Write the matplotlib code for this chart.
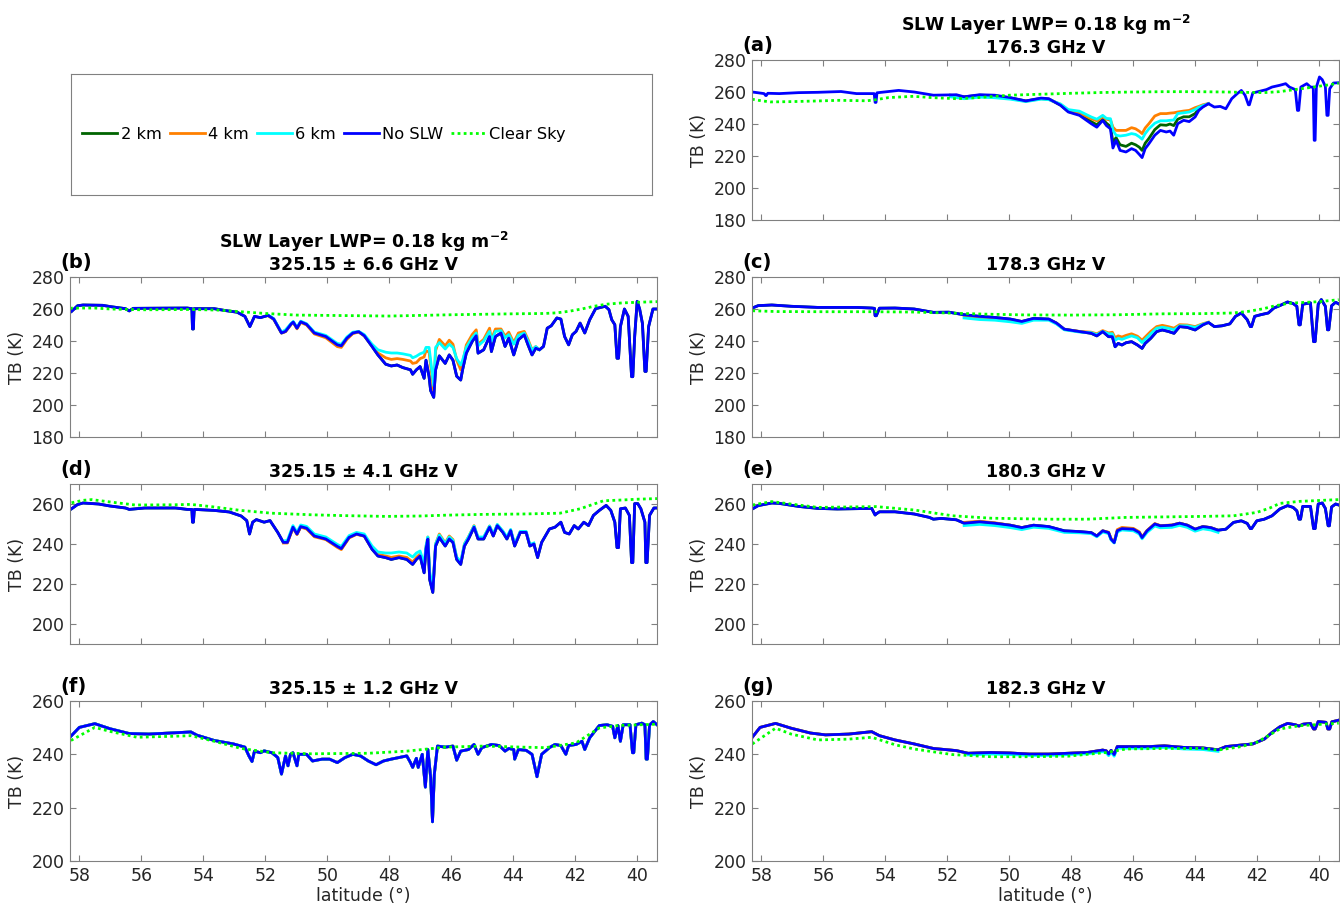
import numpy as np
import matplotlib
matplotlib.use('Agg')
import matplotlib.pyplot as plt
from matplotlib.lines import Line2D

# ---- brightness temperatures along the flight track: (latitude, TB [K]) ----

# (a) 176.3 GHz V
a_noslw = [(58.29, 260.0), (57.91, 259.0), (57.86, 257.8), (57.84, 257.8), (57.79, 259.2), (57.42, 259.0),
           (56.80, 259.6), (56.18, 259.8), (55.43, 260.3), (54.93, 259.0), (54.36, 259.0), (54.33, 253.5),
           (54.30, 253.5), (54.27, 259.5), (53.57, 261.0), (53.07, 260.0), (52.45, 258.0), (51.90, 258.2),
           (51.71, 258.3), (51.46, 257.0), (50.96, 258.3), (50.47, 258.0), (49.97, 256.5), (49.47, 254.4),
           (48.98, 256.2), (48.73, 255.8), (48.35, 251.7), (48.10, 247.5), (47.74, 245.4), (47.36, 240.2),
           (47.18, 238.0), (46.99, 242.3), (46.87, 239.0), (46.74, 237.0), (46.66, 225.0), (46.56, 229.8),
           (46.43, 223.5), (46.24, 222.5), (46.06, 224.6), (45.93, 223.5), (45.81, 221.0), (45.72, 219.0),
           (45.62, 224.6), (45.50, 227.7), (45.31, 233.0), (45.13, 236.0), (44.94, 235.0), (44.82, 235.6),
           (44.70, 233.0), (44.57, 240.2), (44.38, 242.3), (44.20, 241.5), (44.01, 244.4), (43.89, 248.5),
           (43.76, 250.6), (43.58, 252.7), (43.39, 250.6), (43.20, 251.0), (43.02, 249.5), (42.83, 255.8),
           (42.65, 259.0), (42.52, 261.0), (42.40, 258.0), (42.29, 252.0), (42.26, 252.0), (42.15, 259.4),
           (41.71, 261.5), (41.53, 263.1), (41.28, 264.2), (41.09, 265.2), (40.97, 263.1), (40.78, 261.5),
           (40.71, 248.5), (40.67, 248.5), (40.60, 263.1), (40.41, 265.2), (40.29, 263.1), (40.20, 263.0),
           (40.17, 229.8), (40.14, 229.8), (40.10, 263.0), (40.00, 269.4), (39.91, 267.7), (39.81, 263.5),
           (39.76, 245.4), (39.72, 245.4), (39.67, 262.0), (39.55, 265.6), (39.38, 265.8)]
a_clear = [(58.30, 255.5), (58.00, 254.5), (57.70, 253.8), (57.00, 254.0), (56.00, 254.5), (55.50, 254.8),
           (54.60, 254.5), (54.30, 255.2), (53.90, 256.5), (53.10, 257.3), (52.50, 256.5), (51.70, 255.8),
           (51.00, 256.5), (50.00, 258.0), (49.00, 258.6), (48.00, 259.2), (47.00, 259.7), (46.00, 260.0),
           (45.00, 260.2), (44.00, 260.2), (43.00, 260.0), (42.50, 259.8), (41.80, 259.6), (41.30, 260.2),
           (40.80, 261.5), (40.30, 262.8), (39.80, 264.2), (39.38, 265.5)]
a_slw_lat = [51.90, 51.46, 50.96, 50.47, 49.97, 49.47, 48.98, 48.73, 48.35, 48.10,
             47.74, 47.36, 47.18, 46.99, 46.87, 46.74, 46.66, 46.56, 46.43, 46.24,
             46.06, 45.93, 45.81, 45.72, 45.62, 45.50, 45.31, 45.13, 44.94, 44.82,
             44.70, 44.57, 44.38, 44.20, 44.01, 43.89, 43.76, 43.58]
a_2km = [258.0, 257.0, 258.0, 257.7, 256.3, 254.4, 256.0, 255.6, 251.8, 247.8,
         246.0, 241.5, 239.5, 243.0, 240.5, 238.5, 228.5, 231.5, 227.0, 226.0,
         228.0, 227.0, 225.5, 223.5, 228.0, 231.0, 236.5, 239.5, 239.2, 240.0,
         239.0, 243.0, 244.5, 244.5, 246.5, 249.5, 251.0, 252.7]
a_4km = [257.8, 256.7, 257.6, 257.2, 256.0, 254.2, 255.8, 255.4, 252.3, 248.5,
         247.0, 243.3, 242.0, 244.5, 243.0, 242.5, 238.0, 236.0, 236.0, 236.0,
         237.7, 237.0, 235.5, 234.0, 237.5, 240.2, 245.0, 246.5, 246.5, 246.8,
         247.0, 247.5, 248.1, 248.5, 250.2, 251.0, 252.0, 252.8]
a_6km = [257.0, 255.8, 256.8, 256.4, 255.5, 254.0, 255.5, 255.2, 252.5, 249.0,
         248.0, 244.4, 243.0, 245.4, 243.5, 243.3, 236.0, 233.0, 232.5, 233.0,
         234.0, 233.5, 232.0, 230.5, 234.0, 237.0, 240.5, 242.0, 242.0, 242.3,
         242.5, 246.5, 247.0, 247.5, 249.0, 250.5, 251.5, 252.7]

# (b) 325.15 +- 6.6 GHz V
b_noslw = [(58.25, 258.5), (58.06, 262.0), (57.88, 262.5), (57.25, 262.3), (57.00, 261.5), (56.51, 260.2),
           (56.39, 258.8), (56.26, 260.4), (55.50, 260.5), (54.52, 260.6), (54.37, 260.2), (54.35, 247.5),
           (54.32, 247.5), (54.30, 260.2), (53.65, 260.2), (53.28, 259.0), (52.91, 258.0), (52.66, 255.4),
           (52.50, 249.0), (52.35, 255.4), (52.16, 254.6), (51.91, 256.0), (51.73, 253.7), (51.48, 245.0),
           (51.35, 246.0), (51.17, 250.6), (51.10, 251.8), (50.98, 248.0), (50.86, 252.0), (50.67, 250.4),
           (50.42, 245.0), (50.05, 242.8), (49.68, 237.6), (49.55, 237.0), (49.37, 241.8), (49.18, 245.0),
           (48.99, 245.8), (48.81, 243.3), (48.56, 236.6), (48.37, 231.3), (48.12, 225.5), (47.94, 224.4),
           (47.75, 225.0), (47.57, 223.4), (47.32, 222.0), (47.25, 219.2), (47.13, 222.0), (47.01, 224.0),
           (46.88, 216.7), (46.82, 228.0), (46.72, 217.7), (46.67, 209.0), (46.57, 204.8), (46.51, 222.0),
           (46.39, 230.7), (46.20, 226.0), (46.07, 231.3), (45.95, 228.0), (45.83, 218.0), (45.70, 215.6),
           (45.64, 222.0), (45.52, 232.4), (45.33, 239.7), (45.20, 243.3), (45.14, 232.4), (44.96, 234.5),
           (44.77, 242.8), (44.71, 233.4), (44.58, 242.8), (44.40, 245.0), (44.27, 236.6), (44.15, 241.8),
           (43.99, 231.3), (43.84, 240.8), (43.65, 243.9), (43.53, 237.6), (43.40, 231.3), (43.28, 235.5),
           (43.16, 234.5), (43.03, 236.6), (42.91, 248.0), (42.78, 249.5), (42.60, 254.4), (42.47, 253.7),
           (42.35, 242.8), (42.22, 237.6), (42.10, 243.9), (41.98, 246.0), (41.85, 251.2), (41.70, 245.0),
           (41.54, 253.3), (41.35, 260.2), (41.04, 261.7), (40.92, 259.6), (40.83, 253.3), (40.73, 250.2),
           (40.66, 229.2), (40.61, 229.2), (40.55, 249.0), (40.42, 260.0), (40.30, 255.4), (40.19, 217.7),
           (40.15, 217.7), (40.09, 242.8), (40.01, 264.8), (39.93, 260.0), (39.84, 251.0), (39.76, 221.0),
           (39.72, 221.0), (39.64, 249.0), (39.50, 260.0), (39.37, 260.0)]
b_clear = [(58.30, 260.5), (58.00, 260.6), (57.50, 260.6), (57.00, 260.0), (56.00, 259.5), (55.00, 259.6),
           (54.40, 259.7), (53.50, 259.3), (52.80, 258.3), (52.00, 257.2), (51.00, 256.2), (50.00, 256.0),
           (49.00, 255.8), (48.00, 255.6), (47.00, 256.0), (46.00, 256.4), (45.00, 256.7), (44.00, 257.0),
           (43.00, 257.2), (42.60, 257.6), (42.20, 258.6), (41.80, 260.0), (41.40, 261.7), (41.00, 263.0),
           (40.50, 263.8), (40.00, 264.2), (39.37, 264.6)]
b_slw_lat = [51.91, 51.73, 51.48, 51.35, 51.17, 51.10, 50.98, 50.86, 50.67, 50.42,
             50.05, 49.68, 49.55, 49.37, 49.18, 48.99, 48.81, 48.56, 48.37, 48.12,
             47.94, 47.75, 47.57, 47.32, 47.25, 47.13, 47.01, 46.88, 46.82, 46.72,
             46.67, 46.57, 46.51, 46.39, 46.20, 46.07, 45.95, 45.83, 45.70, 45.64,
             45.52, 45.33, 45.20, 45.14, 44.96, 44.77, 44.71, 44.58, 44.40, 44.27,
             44.15, 43.99, 43.84, 43.65, 43.53, 43.40, 43.28, 43.16]
b_4km = [255.8, 253.5, 245.0, 245.8, 250.3, 251.5, 247.6, 251.6, 250.0, 244.4,
         242.0, 236.5, 236.0, 241.0, 244.6, 245.6, 243.2, 237.0, 232.5, 229.5,
         228.5, 229.0, 228.5, 227.5, 226.0, 226.5, 229.0, 230.0, 234.0, 233.0,
         225.0, 208.0, 234.0, 241.0, 237.0, 240.5, 238.0, 228.0, 222.0, 226.0,
         237.5, 244.0, 247.0, 238.0, 241.0, 248.0, 241.0, 247.5, 247.5, 243.0,
         245.5, 239.0, 245.0, 246.0, 241.0, 234.5, 236.5, 234.5]
b_6km = [256.2, 254.0, 245.5, 247.0, 251.0, 252.2, 248.5, 252.4, 250.8, 245.6,
         243.5, 238.5, 238.0, 242.5, 245.5, 246.0, 244.0, 238.0, 234.5, 233.0,
         232.5, 232.5, 232.0, 231.0, 229.5, 230.5, 232.0, 233.0, 236.0, 236.0,
         228.0, 212.0, 236.0, 239.0, 235.0, 238.0, 236.0, 229.0, 225.0, 228.0,
         236.0, 242.0, 245.0, 237.0, 240.0, 246.0, 240.0, 246.0, 246.5, 242.0,
         244.0, 238.0, 243.5, 245.0, 240.0, 234.0, 236.5, 234.5]

# (c) 178.3 GHz V
c_noslw = [(58.29, 260.6), (58.10, 262.1), (57.66, 262.5), (57.04, 261.7), (56.18, 261.0), (54.93, 261.0),
           (54.44, 260.6), (54.35, 260.4), (54.33, 255.8), (54.29, 255.8), (54.19, 260.5), (53.69, 260.6),
           (53.07, 260.0), (52.45, 257.9), (51.95, 258.0), (51.46, 256.4), (50.96, 255.4), (50.47, 254.7),
           (49.97, 253.7), (49.60, 252.2), (49.22, 254.1), (48.73, 253.7), (48.48, 251.2), (48.23, 247.4),
           (47.74, 245.9), (47.36, 244.8), (47.18, 243.2), (46.99, 245.9), (46.80, 242.7), (46.68, 242.7),
           (46.59, 236.4), (46.49, 238.5), (46.37, 237.5), (46.24, 238.9), (46.06, 239.6), (45.87, 237.5),
           (45.72, 235.4), (45.62, 238.5), (45.44, 241.7), (45.25, 245.9), (45.07, 246.9), (44.88, 246.0),
           (44.69, 244.8), (44.51, 249.0), (44.26, 248.5), (44.01, 246.9), (43.76, 250.1), (43.58, 251.6),
           (43.39, 249.0), (43.14, 249.5), (42.89, 250.7), (42.71, 255.4), (42.52, 257.5), (42.33, 253.3),
           (42.23, 249.0), (42.19, 249.0), (42.09, 255.4), (41.90, 256.4), (41.65, 257.5), (41.47, 260.6),
           (41.28, 262.1), (41.03, 264.4), (40.85, 263.4), (40.73, 261.7), (40.66, 250.1), (40.62, 250.1),
           (40.54, 263.0), (40.29, 263.8), (40.19, 239.6), (40.14, 239.6), (40.04, 263.0), (39.94, 265.9),
           (39.81, 261.7), (39.74, 247.0), (39.70, 247.0), (39.61, 262.0), (39.48, 264.2), (39.38, 263.2)]
c_clear = [(58.29, 258.9), (57.50, 258.4), (56.00, 258.3), (54.50, 258.3), (53.10, 258.1), (52.00, 257.5),
           (50.80, 256.8), (49.50, 256.3), (48.00, 256.2), (46.50, 256.4), (45.00, 257.0), (43.80, 257.1),
           (42.80, 257.5), (42.30, 258.5), (41.80, 260.2), (41.50, 261.7), (41.00, 263.6), (40.00, 264.6),
           (39.38, 265.8)]
c_slw_lat = [51.46, 50.96, 50.47, 49.97, 49.60, 49.22, 48.73, 48.48, 48.23, 47.74,
             47.36, 47.18, 46.99, 46.80, 46.68, 46.59, 46.49, 46.37, 46.24, 46.06,
             45.87, 45.72, 45.62, 45.44, 45.25, 45.07, 44.88, 44.69, 44.51, 44.26,
             44.01, 43.76, 43.58]
c_4km = [255.6, 254.5, 254.0, 253.0, 251.8, 253.6, 253.4, 251.0, 247.2, 246.0,
         245.5, 244.5, 246.5, 245.0, 245.5, 242.0, 243.2, 242.5, 243.5, 244.5,
         243.0, 240.5, 242.5, 246.0, 249.0, 249.8, 249.0, 248.0, 250.2, 250.0,
         249.0, 250.8, 251.8]
c_6km = [254.4, 253.4, 253.0, 252.0, 251.0, 253.0, 253.0, 250.6, 247.0, 245.6,
         245.2, 244.0, 246.0, 244.5, 244.5, 240.5, 241.7, 241.0, 242.0, 243.2,
         242.0, 239.0, 241.0, 244.5, 248.0, 248.6, 248.0, 247.0, 249.5, 249.5,
         248.5, 250.5, 251.6]

# (d) 325.15 +- 4.1 GHz V
d_noslw = [(58.25, 257.6), (58.06, 259.7), (57.88, 260.5), (57.38, 260.0), (57.01, 259.0), (56.51, 258.0),
           (56.39, 257.3), (55.89, 258.0), (54.89, 258.0), (54.52, 257.3), (54.37, 257.3), (54.35, 250.9),
           (54.32, 250.9), (54.29, 257.3), (53.65, 256.8), (53.16, 256.0), (52.78, 254.0), (52.60, 251.7),
           (52.51, 245.0), (52.41, 250.9), (52.29, 252.2), (52.04, 250.9), (51.85, 251.7), (51.60, 245.8),
           (51.42, 240.8), (51.29, 240.8), (51.17, 245.8), (51.11, 248.4), (50.98, 245.0), (50.86, 248.7),
           (50.67, 247.9), (50.42, 244.0), (50.05, 242.5), (49.68, 238.8), (49.55, 237.7), (49.30, 243.3),
           (49.06, 245.0), (48.81, 244.0), (48.56, 237.4), (48.37, 234.0), (48.12, 233.2), (47.94, 232.3),
           (47.69, 233.2), (47.44, 232.3), (47.25, 229.8), (47.13, 232.3), (47.01, 234.0), (46.88, 225.6),
           (46.82, 237.4), (46.76, 242.5), (46.70, 222.2), (46.60, 215.8), (46.51, 239.0), (46.39, 243.3),
           (46.20, 239.0), (46.07, 242.5), (45.95, 240.8), (45.83, 232.3), (45.70, 229.8), (45.58, 239.0),
           (45.45, 242.5), (45.27, 248.4), (45.14, 242.5), (44.96, 242.5), (44.77, 248.4), (44.65, 244.0),
           (44.52, 249.2), (44.34, 245.8), (44.21, 242.5), (44.09, 246.7), (43.96, 239.0), (43.78, 245.8),
           (43.59, 245.8), (43.47, 239.0), (43.34, 240.0), (43.22, 233.2), (43.09, 240.8), (42.84, 247.5),
           (42.66, 248.4), (42.47, 250.9), (42.35, 245.8), (42.20, 245.0), (42.04, 249.2), (41.91, 247.5),
           (41.73, 250.9), (41.58, 249.2), (41.42, 254.3), (41.23, 256.8), (41.01, 259.3), (40.86, 256.8),
           (40.73, 250.9), (40.66, 238.2), (40.61, 238.2), (40.55, 257.6), (40.39, 258.0), (40.26, 254.3),
           (40.19, 230.7), (40.15, 230.7), (40.09, 260.2), (39.99, 260.2), (39.89, 257.6), (39.76, 250.9),
           (39.73, 230.7), (39.69, 230.7), (39.61, 254.3), (39.47, 258.0), (39.37, 258.0)]
d_clear = [(58.25, 260.6), (57.90, 261.8), (57.60, 262.2), (57.00, 261.0), (56.20, 259.5), (55.00, 259.6),
           (54.40, 259.8), (53.70, 258.6), (52.80, 256.8), (51.80, 255.4), (50.50, 254.6), (49.50, 254.2),
           (48.10, 253.8), (47.00, 254.0), (46.20, 254.4), (45.00, 254.8), (43.70, 255.0), (42.50, 255.4),
           (41.85, 257.6), (41.40, 260.0), (41.10, 261.6), (40.50, 262.0), (40.00, 262.4), (39.37, 262.7)]
d_slw_lat = [51.42, 51.29, 51.17, 51.11, 50.98, 50.86, 50.67, 50.42, 50.05, 49.68,
             49.55, 49.30, 49.06, 48.81, 48.56, 48.37, 48.12, 47.94, 47.69, 47.44,
             47.25, 47.13, 47.01, 46.88, 46.82, 46.76, 46.70, 46.60, 46.51, 46.39,
             46.20, 46.07, 45.95, 45.83, 45.70, 45.58, 45.45, 45.27, 45.14, 44.96,
             44.77, 44.65, 44.52, 44.34, 44.21, 44.09, 43.96, 43.78, 43.59, 43.47,
             43.34]
d_4km = [240.5, 240.5, 245.5, 248.1, 244.7, 248.4, 247.5, 243.6, 242.2, 238.3,
         237.2, 243.0, 244.8, 243.9, 237.8, 234.8, 234.0, 233.3, 234.0, 233.3,
         231.0, 233.3, 235.0, 228.0, 238.5, 243.5, 224.0, 217.0, 240.0, 245.0,
         240.5, 244.0, 242.2, 233.0, 230.5, 240.0, 243.5, 249.2, 243.0, 243.0,
         249.0, 244.5, 249.6, 246.2, 243.0, 247.0, 239.6, 246.2, 246.0, 239.4,
         240.2]
d_6km = [241.5, 241.8, 246.8, 249.2, 246.0, 249.5, 248.8, 245.0, 243.5, 239.8,
         238.8, 244.2, 245.8, 245.0, 239.0, 236.0, 235.5, 235.5, 236.0, 235.5,
         233.5, 235.5, 236.5, 230.0, 239.0, 243.5, 226.0, 218.0, 240.0, 244.5,
         240.2, 243.5, 241.8, 233.5, 231.2, 240.0, 243.5, 249.0, 243.5, 243.5,
         249.0, 245.0, 249.8, 246.5, 243.5, 247.3, 240.0, 246.3, 246.3, 239.8,
         240.5]

# (e) 180.3 GHz V
e_noslw = [(58.29, 257.5), (58.10, 259.2), (57.66, 260.5), (57.42, 260.3), (56.80, 258.8), (56.18, 257.8),
           (55.55, 257.5), (54.44, 257.8), (54.33, 254.5), (54.30, 255.0), (54.19, 256.1), (53.69, 256.1),
           (53.07, 255.0), (52.58, 253.3), (52.45, 252.4), (52.20, 252.8), (51.71, 252.1), (51.46, 250.4),
           (50.96, 251.1), (50.47, 250.4), (49.97, 249.4), (49.60, 248.2), (49.22, 249.4), (48.73, 248.7),
           (48.23, 246.6), (47.74, 246.2), (47.36, 245.7), (47.18, 244.0), (46.99, 246.6), (46.80, 245.7),
           (46.72, 242.4), (46.62, 240.7), (46.52, 246.6), (46.37, 247.7), (46.00, 247.4), (45.81, 245.7),
           (45.72, 243.2), (45.56, 246.6), (45.31, 250.0), (45.13, 249.1), (44.76, 249.4), (44.51, 250.4),
           (44.26, 249.4), (44.01, 247.4), (43.76, 248.7), (43.51, 248.2), (43.27, 246.9), (43.02, 247.4),
           (42.77, 250.8), (42.52, 251.6), (42.33, 250.3), (42.23, 247.7), (42.19, 247.7), (42.02, 251.6),
           (41.78, 252.4), (41.53, 254.1), (41.28, 257.5), (41.03, 259.2), (40.85, 258.3), (40.73, 256.6),
           (40.66, 252.4), (40.61, 252.4), (40.54, 258.8), (40.29, 258.8), (40.19, 247.7), (40.14, 247.7),
           (40.04, 260.0), (39.91, 260.5), (39.81, 257.8), (39.72, 249.1), (39.68, 249.1), (39.61, 258.5),
           (39.48, 260.0), (39.38, 259.5)]
e_clear = [(58.29, 259.5), (57.66, 261.2), (56.80, 259.5), (56.18, 258.3), (54.30, 258.7), (53.07, 257.0),
           (51.83, 254.1), (50.59, 252.9), (48.73, 252.4), (47.50, 252.4), (46.24, 253.3), (43.76, 253.8),
           (42.77, 254.1), (42.02, 255.8), (41.60, 258.0), (41.28, 260.3), (40.66, 261.3), (39.38, 262.2)]
e_slw_lat = [51.46, 50.96, 50.47, 49.97, 49.60, 49.22, 48.73, 48.23, 47.74, 47.36,
             47.18, 46.99, 46.80, 46.72, 46.62, 46.52, 46.37, 46.00, 45.81, 45.72,
             45.56, 45.31, 45.13, 44.76, 44.51, 44.26, 44.01, 43.76, 43.51, 43.27]
e_4km = [250.8, 251.4, 250.6, 249.4, 248.2, 249.3, 248.5, 246.2, 246.0, 245.5,
         243.9, 246.6, 245.9, 242.8, 241.0, 247.2, 248.3, 247.8, 246.1, 243.5,
         246.8, 250.2, 249.2, 249.5, 250.4, 249.4, 247.4, 248.7, 248.2, 246.9]
e_6km = [249.2, 249.8, 249.2, 248.2, 247.2, 248.4, 247.8, 245.8, 245.6, 245.2,
         243.6, 246.0, 245.2, 242.0, 240.5, 246.0, 247.0, 246.6, 245.0, 242.6,
         245.8, 249.0, 248.1, 248.3, 249.3, 248.3, 246.4, 247.6, 247.0, 245.8]

# (f) 325.15 +- 1.2 GHz V
f_noslw = [(58.27, 246.8), (58.00, 250.1), (57.50, 251.5), (57.01, 249.6), (56.39, 247.8), (55.76, 247.6),
           (54.89, 248.1), (54.40, 248.4), (54.21, 247.2), (53.65, 245.2), (53.03, 243.9), (52.66, 242.7),
           (52.53, 239.4), (52.43, 237.3), (52.35, 241.2), (52.16, 240.6), (52.04, 241.3), (51.79, 240.6),
           (51.60, 238.8), (51.48, 232.6), (51.35, 239.4), (51.27, 235.7), (51.19, 240.0), (51.11, 240.6),
           (50.98, 235.7), (50.92, 240.0), (50.67, 240.0), (50.48, 237.5), (50.17, 238.2), (49.93, 238.2),
           (49.68, 236.9), (49.43, 238.8), (49.18, 240.0), (48.93, 239.4), (48.68, 237.5), (48.43, 236.1),
           (48.19, 237.5), (47.94, 238.2), (47.69, 238.8), (47.44, 239.4), (47.32, 236.9), (47.25, 235.1),
           (47.13, 238.5), (47.07, 235.1), (46.94, 240.0), (46.84, 227.7), (46.76, 241.8), (46.67, 231.4),
           (46.61, 214.7), (46.55, 232.6), (46.45, 243.1), (46.20, 242.7), (45.95, 243.1), (45.83, 237.8),
           (45.70, 241.2), (45.45, 241.8), (45.27, 243.7), (45.14, 240.0), (45.02, 242.5), (44.71, 243.7),
           (44.46, 243.3), (44.27, 241.2), (44.15, 242.2), (43.99, 241.8), (43.96, 238.2), (43.84, 241.8),
           (43.59, 241.5), (43.40, 240.0), (43.24, 231.6), (43.09, 240.0), (42.84, 242.5), (42.66, 243.7),
           (42.47, 243.3), (42.31, 240.0), (42.22, 243.3), (41.98, 243.7), (41.79, 244.9), (41.70, 241.8),
           (41.54, 246.2), (41.42, 248.0), (41.23, 250.8), (40.98, 251.1), (40.80, 250.5), (40.73, 246.2),
           (40.63, 250.8), (40.55, 244.9), (40.46, 251.1), (40.24, 251.1), (40.16, 240.6), (40.12, 240.6),
           (40.05, 251.1), (39.86, 251.7), (39.76, 251.1), (39.72, 238.2), (39.68, 238.2), (39.61, 251.0),
           (39.49, 252.3), (39.37, 251.1)]
f_clear = [(58.27, 245.2), (57.50, 250.1), (57.01, 248.6), (56.14, 246.4), (54.89, 246.8), (54.40, 247.0),
           (53.65, 244.9), (52.78, 242.2), (51.79, 240.6), (50.55, 240.2), (48.68, 240.4), (47.44, 241.2),
           (46.20, 242.7), (44.96, 243.1), (43.71, 242.7), (42.97, 242.5), (41.98, 244.3), (41.23, 249.9),
           (40.61, 250.8), (39.37, 251.3)]

# (g) 182.3 GHz V
g_noslw = [(58.29, 246.4), (58.04, 250.1), (57.54, 251.6), (57.04, 249.8), (56.42, 248.0), (55.93, 247.3),
           (55.18, 247.6), (54.44, 248.5), (54.19, 247.0), (53.69, 245.4), (53.07, 243.9), (52.45, 242.2),
           (51.71, 241.4), (51.33, 240.4), (50.59, 240.7), (49.97, 240.5), (49.35, 240.1), (48.73, 240.1),
           (48.11, 240.4), (47.49, 240.7), (46.99, 241.6), (46.87, 241.3), (46.80, 240.1), (46.72, 241.5),
           (46.62, 239.9), (46.52, 242.9), (46.00, 242.9), (45.50, 242.9), (45.00, 243.2), (44.38, 242.6),
           (43.76, 242.4), (43.27, 241.7), (43.02, 242.9), (42.52, 243.5), (42.15, 243.9), (41.78, 245.7),
           (41.53, 248.2), (41.28, 250.3), (41.03, 251.6), (40.78, 251.1), (40.66, 250.6), (40.53, 251.3),
           (40.29, 251.6), (40.19, 249.5), (40.14, 249.5), (40.04, 252.3), (39.79, 252.0), (39.73, 249.5),
           (39.67, 249.5), (39.60, 252.2), (39.38, 252.8)]
g_clear = [(58.29, 243.9), (57.54, 249.8), (57.04, 247.6), (56.18, 245.4), (55.18, 245.7), (54.44, 246.4),
           (53.69, 243.6), (53.07, 242.0), (51.83, 239.9), (50.59, 239.1), (49.35, 239.1), (48.11, 239.3),
           (46.87, 240.7), (46.24, 242.0), (45.00, 242.2), (43.76, 242.2), (43.27, 241.6), (42.52, 242.9),
           (42.02, 244.5), (41.28, 249.5), (40.66, 250.7), (39.38, 251.7)]
g_slw_lat = [51.33, 50.59, 49.97, 49.35, 48.73, 48.11, 47.49, 46.99, 46.87, 46.80,
             46.72, 46.62, 46.52, 46.00, 45.50, 45.00, 44.38, 43.76, 43.27]
g_6km = [239.8, 240.1, 239.9, 239.6, 239.6, 239.9, 240.2, 241.0, 240.5, 239.5,
         240.8, 239.3, 242.3, 242.3, 242.3, 242.6, 242.0, 241.8, 241.1]

series_names = ['2 km', '4 km', '6 km', 'No SLW', 'Clear Sky']
colors = {'2 km': '#006400', '4 km': '#ff8000', '6 km': '#00ffff',
          'No SLW': '#0000ff', 'Clear Sky': '#00ff00'}
LW = 2.0
DOTS = (0, (1, 1.2))

title_lwp = 'SLW Layer LWP= 0.18 kg m$^{\\mathbf{-2}}$'

# label, title, blue, clear, slw latitude, {layer: values}, ylim, yticks
panels = {
    'a': ('(a)', title_lwp + '\n176.3 GHz V', a_noslw, a_clear, a_slw_lat,
          {'2 km': a_2km, '4 km': a_4km, '6 km': a_6km}, (180, 280), range(180, 281, 20)),
    'b': ('(b)', title_lwp + '\n325.15 ± 6.6 GHz V', b_noslw, b_clear, b_slw_lat,
          {'4 km': b_4km, '6 km': b_6km}, (180, 280), range(180, 281, 20)),
    'c': ('(c)', '178.3 GHz V', c_noslw, c_clear, c_slw_lat,
          {'4 km': c_4km, '6 km': c_6km}, (180, 280), range(180, 281, 20)),
    'd': ('(d)', '325.15 ± 4.1 GHz V', d_noslw, d_clear, d_slw_lat,
          {'4 km': d_4km, '6 km': d_6km}, (190, 270), range(200, 261, 20)),
    'e': ('(e)', '180.3 GHz V', e_noslw, e_clear, e_slw_lat,
          {'4 km': e_4km, '6 km': e_6km}, (190, 270), range(200, 261, 20)),
    'f': ('(f)', '325.15 ± 1.2 GHz V', f_noslw, f_clear, None,
          {}, (200, 260), range(200, 261, 20)),
    'g': ('(g)', '182.3 GHz V', g_noslw, g_clear, g_slw_lat,
          {'6 km': g_6km}, (200, 260), range(200, 261, 20)),
}

W, H = 1340, 909
col_x = {'L': 70, 'R': 752}
col_w = 587
row_bottom = {0: 220, 1: 437, 2: 644, 3: 861}
ax_h = 160
layout = {'a': ('R', 0), 'b': ('L', 1), 'c': ('R', 1), 'd': ('L', 2),
          'e': ('R', 2), 'f': ('L', 3), 'g': ('R', 3)}

EDGE = '#808080'
TXT = '#262626'

fig = plt.figure(figsize=(W / 100, H / 100), dpi=100)

for key, (label, title, noslw, clear, slw_lat, slw, ylim, yticks) in panels.items():
    col, row = layout[key]
    ax = fig.add_axes([col_x[col] / W, 1 - row_bottom[row] / H, col_w / W, ax_h / H])

    lat, tb = np.array(noslw).T
    for name in ['2 km', '4 km', '6 km']:
        if name in slw:
            ax.plot(slw_lat, slw[name], color=colors[name], lw=LW)
        else:
            # layer run sits on top of the no-SLW run here
            ax.plot(lat, tb, color=colors[name], lw=LW)
    ax.plot(lat, tb, color=colors['No SLW'], lw=LW)
    clat, ctb = np.array(clear).T
    ax.plot(clat, ctb, color=colors['Clear Sky'], lw=2.0, ls=DOTS)

    ax.set_xlim(58.3, 39.37)
    ax.set_ylim(*ylim)
    ax.set_xticks(np.arange(58, 39, -2))
    ax.set_yticks(list(yticks))
    ax.tick_params(direction='in', top=True, right=True, length=4, width=0.8,
                   color=EDGE, labelcolor=TXT, labelsize=12.5, pad=4)
    for sp in ax.spines.values():
        sp.set_color(EDGE)
        sp.set_linewidth(0.8)
    ax.set_ylabel('TB (K)', fontsize=12.5, color=TXT, labelpad=4)
    if row == 3:
        ax.set_xlabel('latitude (°)', fontsize=12.5, color=TXT, labelpad=2)
    else:
        ax.tick_params(labelbottom=False)
    ax.set_title(title, fontsize=12.5, fontweight='bold', pad=5, linespacing=1.15)
    ax.text(-0.016, 1.09, label, transform=ax.transAxes, fontsize=14,
            fontweight='bold', ha='left', va='center')

# legend sits in its own framed box at top left
lax = fig.add_axes([71 / W, 1 - 195 / H, 581 / W, 121 / H])
lax.set_xticks([])
lax.set_yticks([])
for sp in lax.spines.values():
    sp.set_color(EDGE)
    sp.set_linewidth(0.8)
handles = [Line2D([], [], color=colors[n], lw=LW, ls=DOTS if n == 'Clear Sky' else '-')
           for n in series_names]
lax.legend(handles, series_names, loc='center left', ncol=5, frameon=False,
           fontsize=11.7, handlelength=2.15, handletextpad=0.2, columnspacing=0.5,
           borderaxespad=0.3)

fig.savefig('out.png', dpi=100)
